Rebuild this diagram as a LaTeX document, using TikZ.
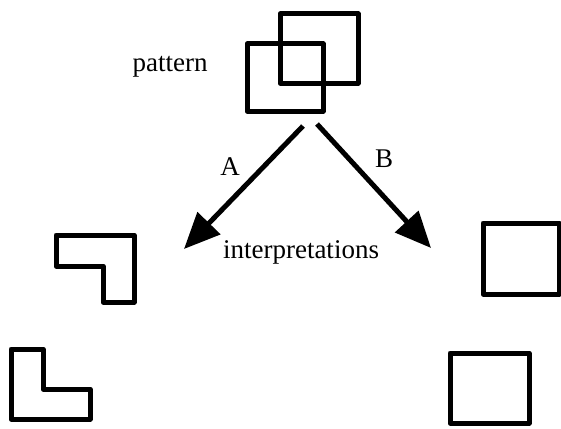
\documentclass[tikz,border=0pt]{standalone}
\usepackage{fontspec}
\setmainfont{Liberation Serif}
\usetikzlibrary{arrows.meta}
\begin{document}
\begin{tikzpicture}[x=1pt,y=-1pt,
  shape line/.style={line width=5pt, line join=round},
  arrowline/.style={line width=5pt, -{Triangle[length=36pt,width=31pt]}},
  lbl/.style={font=\fontsize{27}{31}\selectfont, inner sep=0pt}]
\useasboundingbox (0,0) rectangle (561,428);
% pattern
\draw[shape line] (280,14) rectangle (358,83);
\draw[shape line] (247,44) rectangle (323,111);
\node[lbl] (pattern) at (170,67) {pattern};
% arrows
\coordinate (sA) at (303,126);
\coordinate (eA) at (184,249);
\coordinate (sB) at (317,124);
\coordinate (eB) at (431,248);
\draw[arrowline] (sA) -- (eA);
\draw[arrowline] (sB) -- (eB);
\node[lbl] (A) at (230,167) {A};
\node[lbl] (B) at (384,159) {B};
\node[lbl] (interp) at (301,252) {interpretations};
% left interpretations
\draw[shape line] (56,235) -- (134,235) -- (134,302) -- (103,302) -- (103,266) -- (56,266) -- cycle;
\draw[shape line] (11,349) -- (43,349) -- (43,389) -- (90,389) -- (90,419) -- (11,419) -- cycle;
% right interpretations
\draw[shape line] (483,223) rectangle (559,294);
\draw[shape line] (450,353) rectangle (529,423);
\end{tikzpicture}
\end{document}
